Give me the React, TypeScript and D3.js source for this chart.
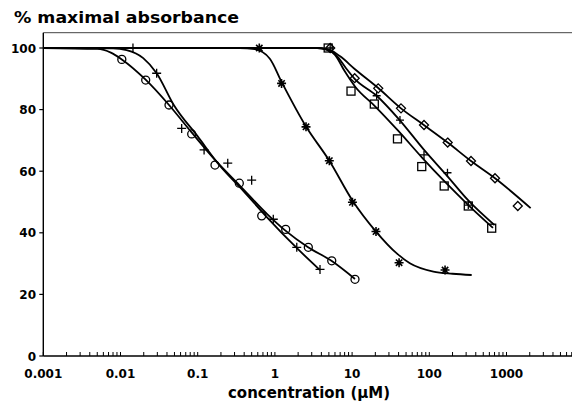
import React from "react";
import * as d3 from "d3";

// ---------- data ----------
// marker series: [concentration µM, % maximal absorbance]
const circlePts: [number, number][] = [
  [0.0104, 96.3], [0.0212, 89.6], [0.0425, 81.5], [0.0836, 72.1], [0.1675, 62.0],
  [0.346, 56.1], [0.675, 45.5], [1.38, 41.1], [2.71, 35.3], [5.45, 30.9], [10.9, 24.9],
];
const plusPts: [number, number][] = [
  [0.0145, 100], [0.0294, 91.8], [0.062, 73.9], [0.121, 66.9], [0.245, 62.6],
  [0.5, 57.1], [0.953, 44.4], [1.92, 35.3], [3.84, 28.1],
];
const starPts: [number, number][] = [
  [0.628, 100], [1.22, 88.5], [2.53, 74.4], [5.07, 63.4], [10.1, 49.9],
  [20.4, 40.4], [40.6, 30.3], [160, 27.9],
];
const squarePts: [number, number][] = [
  [4.9, 100], [9.68, 86.0], [19.4, 81.8], [38.7, 70.5], [79.8, 61.5],
  [156, 55.2], [320, 48.7], [643, 41.5],
];
const crossPts: [number, number][] = [
  [5.2, 100], [20.8, 84.5], [41.7, 76.6], [85.4, 65.3], [172, 59.5], [320, 49.0],
];
const diamondPts: [number, number][] = [
  [5.2, 100], [10.8, 90.2], [21.8, 86.9], [43, 80.4], [85.4, 75.0], [173, 69.3],
  [347, 63.3], [710, 57.7], [1400, 48.7],
];

// fitted curves
const circleCurve: [number, number][] = [
  [0.001, 100], [0.005, 99.7], [0.0075, 98.5], [0.0104, 96.3], [0.021, 89.8],
  [0.0425, 81.5], [0.084, 72.5], [0.17, 63.5], [0.346, 55.5], [0.8, 46],
  [1.37, 40.7], [2.69, 35.3], [5.4, 30.9], [10.9, 25],
];
const plusCurve: [number, number][] = [
  [0.001, 100], [0.008, 99.9], [0.012, 99.3], [0.0197, 96.7], [0.0294, 91.8],
  [0.049, 81.5], [0.1, 71.3], [0.19, 62], [0.4, 53.3], [0.78, 45.2],
  [1.93, 35], [3.84, 27.9],
];
const starCurve: [number, number][] = [
  [0.001, 100], [0.35, 100], [0.55, 99.6], [0.86, 96.5], [1.22, 89], [2.53, 74.5],
  [5.07, 63.4], [10.1, 50.5], [20.4, 40.4], [37.9, 33.3], [56, 30.1], [113, 27.4],
  [200, 26.7], [354, 26.3],
];
const squareCurve: [number, number][] = [
  [0.001, 100], [3.5, 100], [4.6, 99.5], [6, 97.8], [8, 92.5], [10.9, 87.5],
  [20, 81], [40, 73], [80, 64.5], [160, 56.5], [320, 49], [668, 41.6],
];
const crossCurve: [number, number][] = [
  [0.001, 100], [3.6, 100], [4.8, 99.5], [6.3, 97.5], [8.3, 93.5], [10.8, 90],
  [20.8, 84.5], [40, 77], [85, 67], [170, 58.5], [320, 50.5], [700, 42.5],
];
const diamondCurve: [number, number][] = [
  [0.001, 100], [3.6, 100], [5.2, 99.3], [7, 97.3], [10.8, 93.2], [21.8, 87],
  [43, 80.4], [85, 75], [173, 69.3], [347, 63.3], [710, 57.7], [2056, 48],
];

const xTickLabels = ["0.001", "0.01", "0.1", "1", "10", "100", "1000"];
const xTickValues = [0.001, 0.01, 0.1, 1, 10, 100, 1000];
const yTickValues = [0, 20, 40, 60, 80, 100];

const titleText = "% maximal absorbance";
const xTitleText = "concentration (\u00b5M)";

// ---------- layout ----------
const W = 572;
const H = 403;
const left = 43.3;
const right = 572;
const yTop = 32.7;
const yBase = 356;
const decade = 77.2;

const FONT = "'DejaVu Sans', Verdana, sans-serif";

export default function App() {
  const xMax = Math.pow(10, -3 + (right - left) / decade);
  const x = d3.scaleLog().domain([0.001, xMax]).range([left, right]);
  const y = d3.scaleLinear().domain([0, 100]).range([yBase, 48]);

  const line = d3
    .line<[number, number]>()
    .x((d) => x(d[0]))
    .y((d) => y(d[1]))
    .curve(d3.curveMonotoneX);

  const minorTicks: number[] = [];
  for (let e = -3; e <= 3; e++) {
    for (let m = 1; m <= 9; m++) {
      const v = m * Math.pow(10, e);
      if (v <= xMax) minorTicks.push(v);
    }
  }

  const curves = [circleCurve, plusCurve, starCurve, squareCurve, crossCurve, diamondCurve];
  const sw = 1.3;

  return (
    <svg
      width={W}
      height={H}
      style={{ position: "absolute", left: 0, top: 0, background: "#fff" }}
    >
      <rect x={0} y={0} width={W} height={H} fill="#fff" />
      {/* title */}
      <text
        x={14}
        y={23}
        fontFamily={FONT}
        fontWeight="bold"
        fontSize={16}
        textLength={225}
        lengthAdjust="spacingAndGlyphs"
        fill="#000"
      >
        {titleText}
      </text>

      {/* frame */}
      <line x1={left} x2={right} y1={yTop} y2={yTop} stroke="#444" strokeWidth={1} />
      <line x1={left} x2={left} y1={yTop} y2={yBase} stroke="#000" strokeWidth={1.4} />
      <line x1={left} x2={right} y1={yBase} y2={yBase} stroke="#000" strokeWidth={1.6} />

      {/* y ticks */}
      {yTickValues.map((v) => (
        <g key={"y" + v}>
          <line x1={left - 4} x2={left} y1={y(v)} y2={y(v)} stroke="#000" strokeWidth={1.2} />
          <text
            x={36}
            y={y(v) + 4.5}
            textAnchor="end"
            fontFamily={FONT}
            fontWeight="bold"
            fontSize={12}
            fill="#000"
          >
            {v}
          </text>
        </g>
      ))}

      {/* x ticks */}
      {minorTicks.map((v, i) => (
        <line
          key={"xt" + i}
          x1={x(v)}
          x2={x(v)}
          y1={yBase}
          y2={yBase - 4}
          stroke="#000"
          strokeWidth={1}
        />
      ))}
      {xTickValues.map((v, i) => (
        <text
          key={"xl" + i}
          x={x(v)}
          y={377.5}
          textAnchor="middle"
          fontFamily={FONT}
          fontWeight="bold"
          fontSize={12}
          fill="#000"
        >
          {xTickLabels[i]}
        </text>
      ))}
      <text
        x={309}
        y={398}
        textAnchor="middle"
        fontFamily={FONT}
        fontWeight="bold"
        fontSize={15}
        textLength={162}
        lengthAdjust="spacingAndGlyphs"
        fill="#000"
      >
        {xTitleText}
      </text>

      {/* curves */}
      {curves.map((c, i) => (
        <path key={"c" + i} d={line(c) || ""} fill="none" stroke="#000" strokeWidth={1.8} />
      ))}

      {/* markers */}
      {circlePts.map((d, i) => (
        <circle key={"o" + i} cx={x(d[0])} cy={y(d[1])} r={4} fill="none" stroke="#000" strokeWidth={sw} />
      ))}
      {plusPts.map((d, i) => {
        const cx = x(d[0]);
        const cy = y(d[1]);
        return (
          <path
            key={"p" + i}
            d={`M${cx - 4.5},${cy}H${cx + 4.5}M${cx},${cy - 4.5}V${cy + 4.5}`}
            stroke="#000"
            strokeWidth={sw}
          />
        );
      })}
      {crossPts.map((d, i) => {
        const cx = x(d[0]);
        const cy = y(d[1]);
        return (
          <path
            key={"x" + i}
            d={`M${cx - 4},${cy}H${cx + 4}M${cx},${cy - 4}V${cy + 4}`}
            stroke="#000"
            strokeWidth={sw}
          />
        );
      })}
      {starPts.map((d, i) => {
        const cx = x(d[0]);
        const cy = y(d[1]);
        const r = 4.5;
        const a = r * 0.707;
        return (
          <path
            key={"s" + i}
            d={`M${cx - r},${cy}H${cx + r}M${cx},${cy - r}V${cy + r}M${cx - a},${cy - a}L${cx + a},${cy + a}M${cx - a},${cy + a}L${cx + a},${cy - a}`}
            stroke="#000"
            strokeWidth={1.6}
          />
        );
      })}
      {squarePts.map((d, i) => (
        <rect
          key={"q" + i}
          x={x(d[0]) - 4}
          y={y(d[1]) - 4}
          width={8}
          height={8}
          fill="none"
          stroke="#000"
          strokeWidth={sw}
        />
      ))}
      {diamondPts.map((d, i) => {
        const cx = x(d[0]);
        const cy = y(d[1]);
        const r = 4.5;
        return (
          <path
            key={"d" + i}
            d={`M${cx},${cy - r}L${cx + r},${cy}L${cx},${cy + r}L${cx - r},${cy}Z`}
            fill="none"
            stroke="#000"
            strokeWidth={sw}
          />
        );
      })}
    </svg>
  );
}
